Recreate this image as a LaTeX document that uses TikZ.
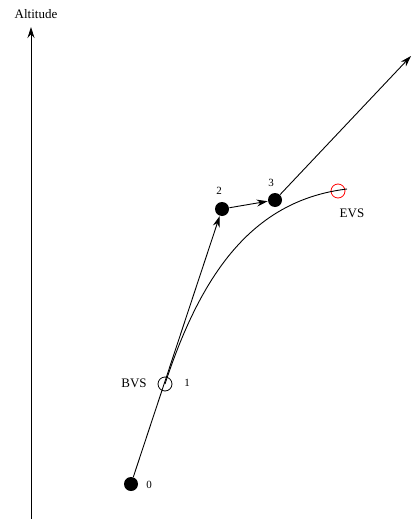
\documentclass[tikz,border=0pt]{standalone}
\usepackage{fontspec}
\setmainfont{Liberation Serif}
\usetikzlibrary{arrows.meta}

\begin{document}
\begin{tikzpicture}[x=1pt,y=-1pt,line width=0.9pt,
        >={Stealth[length=11pt,width=7pt]},
        dot/.style={circle,fill=black,inner sep=0pt,minimum size=14pt},
        ring/.style={circle,draw,inner sep=0pt,minimum size=14pt,line width=0.8pt},
        tag/.style={font=\fontsize{13}{15}\selectfont,inner sep=0pt},
        num/.style={font=\fontsize{11}{13}\selectfont,inner sep=0pt}]
    \useasboundingbox (0,0) rectangle (412,519);

    % altitude axis
    \coordinate (axbot) at (31,519);
    \coordinate (axtop) at (31,27);
    \draw[->] (axbot) -- (axtop);
    \node[tag] (alt) at (36,14) {Altitude};

    % trajectory points
    \node[dot] (p0) at (131,484) {};
    \node[ring] (p1) at (165,384) {};
    \node[dot] (p2) at (222,209) {};
    \node[dot] (p3) at (275,200) {};
    \node[ring,draw=red] (evs) at (338,191) {};
    \coordinate (evsend) at (347,189);
    \coordinate (far) at (411,56);

    \draw[->] (p0) -- (p2);
    \draw[->] (p2) -- (p3);
    \draw[->] (p3) -- (far);
    \draw (p1.center) .. controls (203,268) and (256,200) .. (evsend);

    % labels
    \node[num] (l0) at (149,485) {0};
    \node[num] (l1) at (187,383) {1};
    \node[num] (l2) at (219,191) {2};
    \node[num] (l3) at (271,183) {3};
    \node[tag] (bvs) at (134,383) {BVS};
    \node[tag] (evslab) at (352,213) {EVS};
\end{tikzpicture}
\end{document}
